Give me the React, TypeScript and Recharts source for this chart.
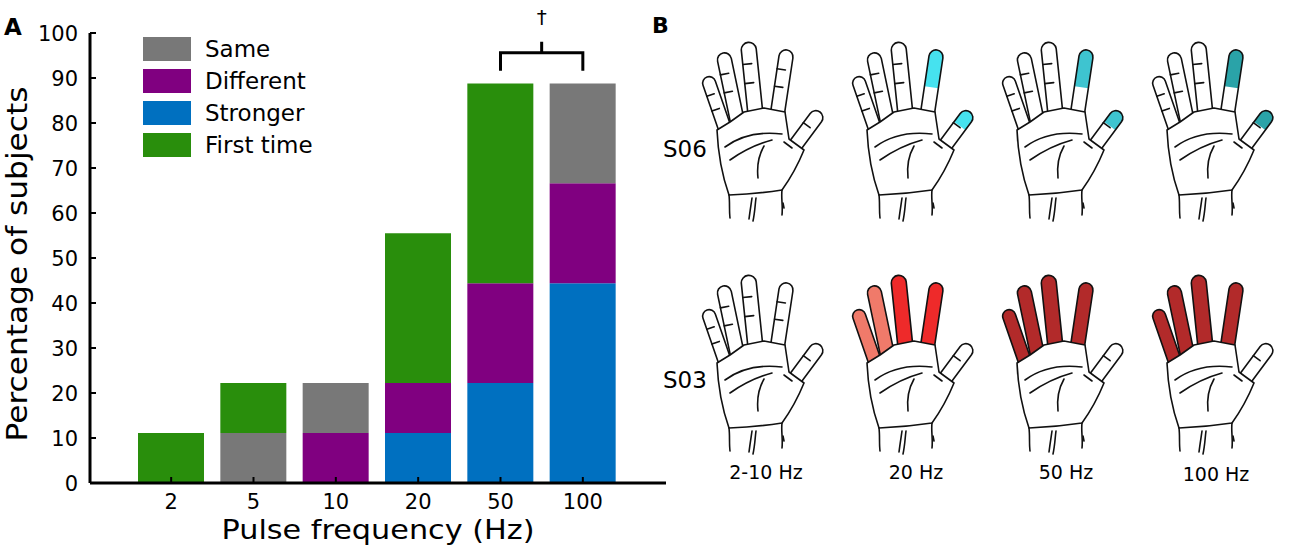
import React from 'react'
import { BarChart, Bar, XAxis, YAxis, Legend, ReferenceLine } from 'recharts'

// panel A: percentage of subjects per pulse frequency
const FREQUENCIES = ['2', '5', '10', '20', '50', '100']
const STRONGER = [0, 0, 0, 11.1, 22.2, 44.4]
const DIFFERENT = [0, 0, 11.1, 11.1, 22.2, 22.2]
const SAME = [0, 11.1, 11.1, 0, 0, 22.2]
const FIRST_TIME = [11.1, 11.1, 0, 33.3, 44.4, 0]
const Y_TICKS = [0, 10, 20, 30, 40, 50, 60, 70, 80, 90, 100]

// stacking order, bottom to top
const SERIES = [
  { key: 'stronger', name: 'Stronger', color: '#0070c0', values: STRONGER },
  { key: 'different', name: 'Different', color: '#800080', values: DIFFERENT },
  { key: 'same', name: 'Same', color: '#787878', values: SAME },
  { key: 'first', name: 'First time', color: '#298e0c', values: FIRST_TIME },
]
const LEGEND_ORDER = ['Same', 'Different', 'Stronger', 'First time']

// significance bracket between 50 and 100 Hz
const SIG_PAIR = ['50', '100']
const SIG_LEVEL = 95.6

// panel B: hand maps
const SUBJECTS = ['S06', 'S03']
const HAND_LABELS = ['2-10 Hz', '20 Hz', '50 Hz', '100 Hz']
const S06_FILLS: Record<string, [string, number]>[] = [
  {},
  { index: ['#46e2ef', 0.62], thumb: ['#46e2ef', 0.45] },
  { index: ['#3ec4d0', 0.62], thumb: ['#3ec4d0', 0.45] },
  { index: ['#2aa3a8', 0.62], thumb: ['#2aa3a8', 0.45] },
]
const S03_FILLS: Record<string, [string, number]>[] = [
  {},
  { little: ['#f07a6a', 1], ring: ['#f07a6a', 1], middle: ['#ee2a2a', 1], index: ['#ee2a2a', 1] },
  { little: ['#b22a2a', 1], ring: ['#b22a2a', 1], middle: ['#b22a2a', 1], index: ['#b22a2a', 1] },
  { little: ['#b22a2a', 1], ring: ['#b22a2a', 1], middle: ['#b22a2a', 1], index: ['#b22a2a', 1] },
]

const FONT = '"DejaVu Sans", Verdana, sans-serif'

const data = FREQUENCIES.map((freq, i) => {
  const row: Record<string, string | number> = { freq }
  SERIES.forEach(s => {
    row[s.key] = s.values[i]
  })
  return row
})

function YTick(props: any) {
  const { x, y, payload } = props
  return (
    <g>
      <line x1={x + 12} x2={x + 18} y1={y} y2={y} stroke="#000" strokeWidth={2} />
      <text x={x} y={y + 8} textAnchor="end" fontSize={21} fill="#000" fontFamily={FONT}>
        {payload.value}
      </text>
    </g>
  )
}

function XTick(props: any) {
  const { x, y, payload } = props
  return (
    <g>
      <line x1={x} x2={x} y1={y - 8} y2={y - 14} stroke="#000" strokeWidth={2} />
      <text x={x} y={y + 18} textAnchor="middle" fontSize={21} fill="#000" fontFamily={FONT}>
        {payload.value}
      </text>
    </g>
  )
}

function renderXLabel(props: any) {
  const vb = props.viewBox || {}
  return (
    <text
      x={vb.x + vb.width / 2}
      y={vb.y + 56}
      textAnchor="middle"
      fontSize={27}
      textLength={313}
      lengthAdjust="spacingAndGlyphs"
      fill="#000"
      fontFamily={FONT}
    >
      Pulse frequency (Hz)
    </text>
  )
}

function renderYLabel(props: any) {
  const vb = props.viewBox || {}
  const cx = vb.x + 27
  const cy = vb.y + vb.height / 2 + 6
  return (
    <text
      transform={`translate(${cx},${cy}) rotate(-90)`}
      textAnchor="middle"
      fontSize={28}
      textLength={355}
      lengthAdjust="spacingAndGlyphs"
      fill="#000"
      fontFamily={FONT}
    >
      Percentage of subjects
    </text>
  )
}

function renderLegend() {
  return (
    <div style={{ fontFamily: FONT, fontSize: 23, color: '#000' }}>
      {LEGEND_ORDER.map(name => {
        const s = SERIES.find(item => item.name === name)!
        return (
          <div key={name} style={{ display: 'flex', alignItems: 'center', height: 24, marginBottom: 8 }}>
            <span style={{ display: 'inline-block', width: 48, height: 24, background: s.color, marginRight: 14 }} />
            <span style={{ lineHeight: '24px', whiteSpace: 'nowrap' }}>{name}</span>
          </div>
        )
      })}
    </div>
  )
}

function SigBracket(props: any) {
  const { x1, y1, x2 } = props
  const mid = (x1 + x2) / 2
  return (
    <g>
      <path
        d={`M${x1},${y1 + 18} L${x1},${y1} L${x2},${y1} L${x2},${y1 + 18} M${mid},${y1} L${mid},${y1 - 11}`}
        fill="none"
        stroke="#000"
        strokeWidth={3}
      />
      <text x={mid} y={y1 - 29} textAnchor="middle" fontSize={20} fill="#000" fontFamily={FONT}>
        †
      </text>
    </g>
  )
}

// hand outline, local coordinates of one drawing
const FINGERS: Record<string, { tip: number[]; base: number[]; w: number; creases: number[] }> = {
  little: { tip: [9, 39], base: [26, 88], w: 13, creases: [0.35, 0.65] },
  ring: { tip: [25, 15], base: [38, 77], w: 14, creases: [0.33, 0.62] },
  middle: { tip: [50, 4], base: [57, 72], w: 15, creases: [0.32, 0.6] },
  index: { tip: [89, 12], base: [80, 72], w: 14, creases: [0.33, 0.62] },
  thumb: { tip: [122, 74], base: [99, 105], w: 14, creases: [0.48] },
}
const PALM =
  'M19,92 C20,115 25,140 31,157 Q58,156 84,152 Q97,134 106,112 L91,101 L87,74 L66,70 L46,74 L32,84 Z'
const PALM_LINES = [
  'M27,109 Q50,92 84,96',
  'M32,122 Q52,108 74,102',
  'M66,108 Q58,122 60,140',
  'M86,104 L94,110',
  'M31,157 C32,165 31,172 32,180',
  'M84,152 C83,160 85,168 84,177',
  'M54,160 C53,167 52,173 51,181',
  'M58,160 C57,167 57,174 55,183',
  'M85,165 L86,170',
]

function fingerGeom(name: string) {
  const f = FINGERS[name]
  const dx = f.base[0] - f.tip[0]
  const dy = f.base[1] - f.tip[1]
  const len = Math.hypot(dx, dy)
  const ux = dx / len
  const uy = dy / len
  return { f, len, ux, uy, nx: -uy, ny: ux, r: f.w / 2 }
}

function capsule(name: string, frac: number) {
  const { f, len, ux, uy, nx, ny, r } = fingerGeom(name)
  const cx = f.tip[0] + ux * r
  const cy = f.tip[1] + uy * r
  const reach = frac >= 1 ? len + 12 : len * frac
  const ex = f.tip[0] + ux * reach
  const ey = f.tip[1] + uy * reach
  const p = (x: number, y: number) => `${x.toFixed(1)},${y.toFixed(1)}`
  return `M${p(cx + nx * r, cy + ny * r)} L${p(ex + nx * r, ey + ny * r)} L${p(ex - nx * r, ey - ny * r)} L${p(
    cx - nx * r,
    cy - ny * r
  )} A${r},${r} 0 0 0 ${p(cx + nx * r, cy + ny * r)} Z`
}

function creaseLines(name: string, fillFrac: number) {
  const { f, len, ux, uy, nx, ny, r } = fingerGeom(name)
  return f.creases
    .filter(c => c > fillFrac)
    .map(c => {
      const px = f.tip[0] + ux * len * c
      const py = f.tip[1] + uy * len * c
      return `M${(px + nx * r).toFixed(1)},${(py + ny * r).toFixed(1)} L${(px - nx * r * 0.2).toFixed(1)},${(
        py -
        ny * r * 0.2
      ).toFixed(1)}`
    })
}

function Hand({ x, y, fills }: { x: number; y: number; fills: Record<string, [string, number]> }) {
  const names = Object.keys(FINGERS)
  return (
    <g transform={`translate(${x},${y})`} stroke="#111" strokeWidth={1.6} strokeLinejoin="round" strokeLinecap="round">
      {names.map(n => {
        const fill = fills[n]
        return (
          <g key={n}>
            <path d={capsule(n, 1)} fill="#fff" stroke="none" />
            {fill && <path d={capsule(n, fill[1])} fill={fill[0]} stroke="none" />}
            <path d={capsule(n, 1)} fill="none" />
            {creaseLines(n, fill ? fill[1] : 0).map((d, i) => (
              <path key={i} d={d} fill="none" />
            ))}
          </g>
        )
      })}
      <path d={PALM} fill="#fff" />
      {PALM_LINES.map((d, i) => (
        <path key={i} d={d} fill="none" />
      ))}
    </g>
  )
}

function HandPanel() {
  const rows = [S06_FILLS, S03_FILLS]
  return (
    <svg
      width={1300}
      height={556}
      style={{ position: 'absolute', left: 0, top: 0, pointerEvents: 'none' }}
      fontFamily={FONT}
    >
      <text x={4} y={35} fontSize={23} fontWeight="bold" fill="#000">
        A
      </text>
      <text x={652} y={33} fontSize={22} fontWeight="bold" fill="#000">
        B
      </text>
      {SUBJECTS.map((s, r) => (
        <text key={s} x={663} y={157 + r * 231} fontSize={23} fill="#000">
          {s}
        </text>
      ))}
      {rows.map((row, r) =>
        row.map((fills, c) => <Hand key={`${r}-${c}`} x={698 + c * 150} y={38 + r * 233} fills={fills} />)
      )}
      {HAND_LABELS.map((label, c) => (
        <text key={label} x={766 + c * 150} y={479 + (c === 3 ? 2 : 0)} textAnchor="middle" fontSize={19} fill="#000">
          {label}
        </text>
      ))}
    </svg>
  )
}

export default function App() {
  return (
    <div style={{ position: 'absolute', left: 0, top: 0, width: 1300, height: 556, background: '#fff', fontFamily: FONT }}>
      <BarChart width={680} height={556} data={data} margin={{ top: 33, right: 14, bottom: 43, left: 0 }}>
        <XAxis
          dataKey="freq"
          height={30}
          interval={0}
          padding={{ left: 40, right: 42 }}
          axisLine={{ stroke: '#000', strokeWidth: 3 }}
          tickLine={false}
          tickSize={0}
          tickMargin={8}
          tick={<XTick />}
          label={{ value: 'Pulse frequency (Hz)', content: renderXLabel }}
        />
        <YAxis
          width={90}
          domain={[0, 100]}
          ticks={Y_TICKS}
          interval={0}
          axisLine={{ stroke: '#000', strokeWidth: 3 }}
          tickLine={false}
          tickSize={0}
          tickMargin={12}
          tick={<YTick />}
          label={{ value: 'Percentage of subjects', content: renderYLabel }}
        />
        <Legend
          layout="vertical"
          align="center"
          verticalAlign="middle"
          content={renderLegend}
          wrapperStyle={{ left: 143, top: 37, width: 'auto', height: 'auto' }}
        />
        {SERIES.map(s => (
          <Bar key={s.key} dataKey={s.key} name={s.name} stackId="a" fill={s.color} barSize={66} isAnimationActive={false} />
        ))}
        <ReferenceLine
          segment={[
            { x: SIG_PAIR[0], y: SIG_LEVEL },
            { x: SIG_PAIR[1], y: SIG_LEVEL },
          ]}
          stroke="#000"
          shape={SigBracket}
        />
      </BarChart>
      <HandPanel />
    </div>
  )
}
